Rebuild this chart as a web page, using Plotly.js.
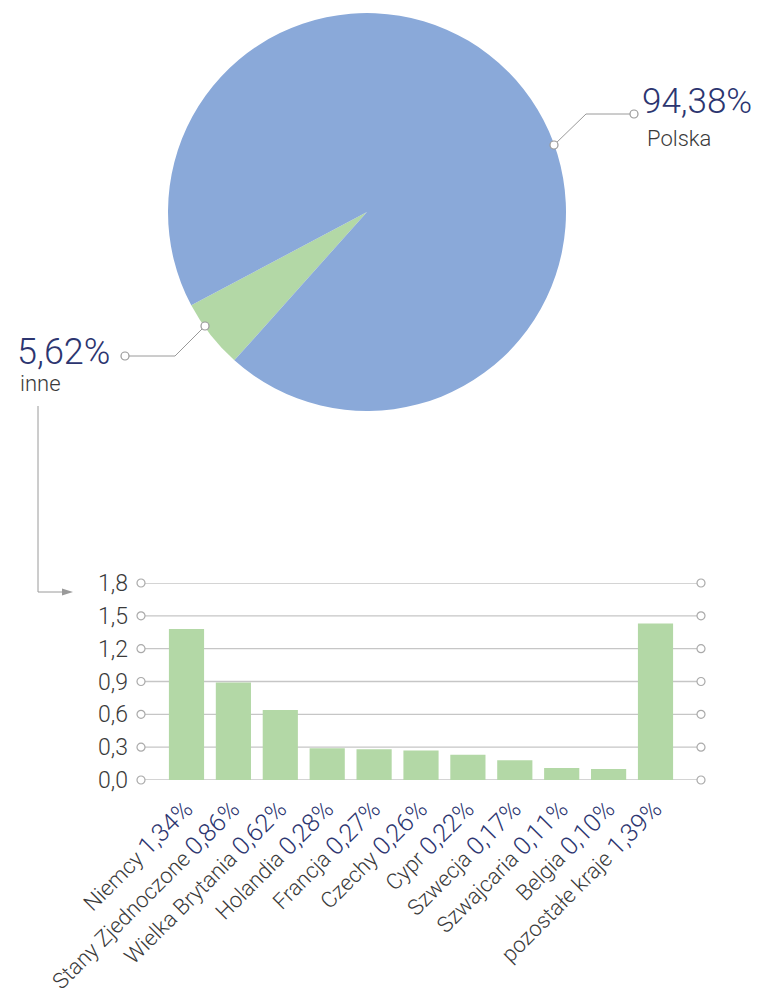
<!DOCTYPE html>
<html>
<head>
<meta charset="utf-8">
<script src="https://cdn.plot.ly/plotly-3.0.1.min.js"></script>
<style>html,body{margin:0;padding:0;background:#fff;}#chart{width:758px;height:1001px;}</style>
</head>
<body>
<div id="chart"></div>
<script>
// ---- data ----
var pieLabels = ['inne', 'Polska'];
var pieValues = [5.62, 94.38];

var countries = ['Niemcy', 'Stany Zjednoczone', 'Wielka Brytania', 'Holandia', 'Francja', 'Czechy', 'Cypr', 'Szwecja', 'Szwajcaria', 'Belgia', 'pozostałe kraje'];
var countryPct = [1.34, 0.86, 0.62, 0.28, 0.27, 0.26, 0.22, 0.17, 0.11, 0.10, 1.39];
var barHeights = [1.38, 0.89, 0.64, 0.29, 0.28, 0.27, 0.23, 0.18, 0.11, 0.10, 1.43];
var yTicks = [0, 0.3, 0.6, 0.9, 1.2, 1.5, 1.8];

// ---- styling ----
var W = 758, H = 1001;
var FONT = 'Roboto, "Liberation Sans", sans-serif';
var NAVY = '#2c3570';
var GRAYTXT = '#3a3a3a';
var LINE = '#9a9a9a';
function px(x){ return x / W; }
function py(y){ return 1 - y / H; }
function fmt(v){ return v.toFixed(2).replace('.', ','); }

var xMin = -0.97, xMax = 10.97;

var tickText = countries.map(function(c, i){
  return c + ' <span style="color:' + NAVY + ';font-size:25px">' + fmt(countryPct[i]) + '%</span>';
});

var traces = [
  {
    type: 'pie',
    labels: pieLabels,
    values: pieValues,
    sort: false,
    direction: 'clockwise',
    rotation: 221.8,
    marker: {colors: ['#b3d8a6', '#8aa9d9'], line: {width: 0}},
    textinfo: 'none',
    hoverinfo: 'label+percent',
    showlegend: false,
    domain: {x: [px(168), px(566)], y: [py(411), py(13)]}
  },
  {
    type: 'bar',
    x: countries.map(function(c, i){ return i; }),
    y: barHeights,
    width: 0.75,
    marker: {color: '#b3d8a6', line: {width: 0}},
    showlegend: false,
    xaxis: 'x', yaxis: 'y'
  },
  {
    type: 'scatter',
    mode: 'markers',
    x: yTicks.map(function(){ return xMin; }).concat(yTicks.map(function(){ return xMax; })),
    y: yTicks.concat(yTicks),
    marker: {symbol: 'circle', size: 8, color: '#ffffff', line: {color: '#aaaaaa', width: 1.2}},
    cliponaxis: false,
    hoverinfo: 'skip',
    showlegend: false,
    xaxis: 'x', yaxis: 'y'
  }
];

var shapes = [];
yTicks.forEach(function(v){
  shapes.push({type: 'line', xref: 'x', yref: 'y', x0: xMin, x1: xMax, y0: v, y1: v,
    layer: 'below', line: {color: '#c6c6c6', width: 1.3}});
});
shapes.push({type: 'path', xref: 'paper', yref: 'paper',
   path: 'M' + px(554) + ',' + py(145) + ' L' + px(586) + ',' + py(114) + ' L' + px(630) + ',' + py(114),
   line: {color: LINE, width: 1}});
shapes.push({type: 'path', xref: 'paper', yref: 'paper',
   path: 'M' + px(205) + ',' + py(326) + ' L' + px(175) + ',' + py(356) + ' L' + px(129) + ',' + py(356),
   line: {color: LINE, width: 1}});
shapes.push({type: 'path', xref: 'paper', yref: 'paper',
   path: 'M' + px(38) + ',' + py(406) + ' L' + px(38) + ',' + py(592) + ' L' + px(63) + ',' + py(592),
   line: {color: LINE, width: 1}});
shapes.push({type: 'path', xref: 'paper', yref: 'paper',
   path: 'M' + px(62) + ',' + py(588.5) + ' L' + px(73) + ',' + py(592) + ' L' + px(62) + ',' + py(595.5) + ' Z',
   fillcolor: LINE, line: {color: LINE, width: 0}});
function circ(cx, cy, r){
  return {type: 'circle', xref: 'paper', yref: 'paper',
    x0: px(cx - r), x1: px(cx + r), y0: py(cy + r), y1: py(cy - r),
    fillcolor: '#ffffff', line: {color: LINE, width: 1.2}};
}
shapes.push(circ(554, 145, 4), circ(634, 114, 4), circ(205, 326, 4), circ(125, 356, 4));

var annotations = [
  {xref: 'paper', yref: 'paper', x: px(640), y: py(102), xanchor: 'left', yanchor: 'middle', showarrow: false,
   text: fmt(pieValues[1]) + '%', font: {family: FONT, size: 35, weight: 300, color: NAVY}},
  {xref: 'paper', yref: 'paper', x: px(645), y: py(139), xanchor: 'left', yanchor: 'middle', showarrow: false,
   text: pieLabels[1], font: {family: FONT, size: 22, weight: 300, color: GRAYTXT}},
  {xref: 'paper', yref: 'paper', x: px(15), y: py(352), xanchor: 'left', yanchor: 'middle', showarrow: false,
   text: fmt(pieValues[0]) + '%', font: {family: FONT, size: 36, weight: 300, color: NAVY}},
  {xref: 'paper', yref: 'paper', x: px(18), y: py(383), xanchor: 'left', yanchor: 'middle', showarrow: false,
   text: pieLabels[0], font: {family: FONT, size: 22, weight: 300, color: GRAYTXT}}
];

var layout = {
  width: W, height: H,
  margin: {l: 0, r: 0, t: 0, b: 0},
  paper_bgcolor: '#ffffff', plot_bgcolor: 'rgba(0,0,0,0)',
  separators: ', ',
  font: {family: FONT, color: GRAYTXT, weight: 300},
  showlegend: false,
  xaxis: {
    domain: [px(141), px(701)],
    range: [xMin, xMax],
    tickmode: 'array',
    tickvals: countries.map(function(c, i){ return i; }),
    ticktext: tickText,
    tickangle: -45,
    tickfont: {family: FONT, size: 22, weight: 300, color: GRAYTXT},
    showgrid: false, zeroline: false, showline: false, ticks: '',
    ticklabelstandoff: 11,
    fixedrange: true
  },
  yaxis: {
    domain: [py(780), py(583)],
    range: [0, 1.8],
    tickmode: 'array',
    tickvals: yTicks,
    ticktext: yTicks.map(function(v){ return v.toFixed(1).replace('.', ','); }),
    tickfont: {family: FONT, size: 23, weight: 300, color: GRAYTXT},
    showgrid: false, zeroline: false, showline: false, ticks: '',
    ticklabelstandoff: 12,
    fixedrange: true
  },
  shapes: shapes,
  annotations: annotations
};

Plotly.newPlot('chart', traces, layout, {displayModeBar: false, staticPlot: true});
</script>
</body>
</html>
